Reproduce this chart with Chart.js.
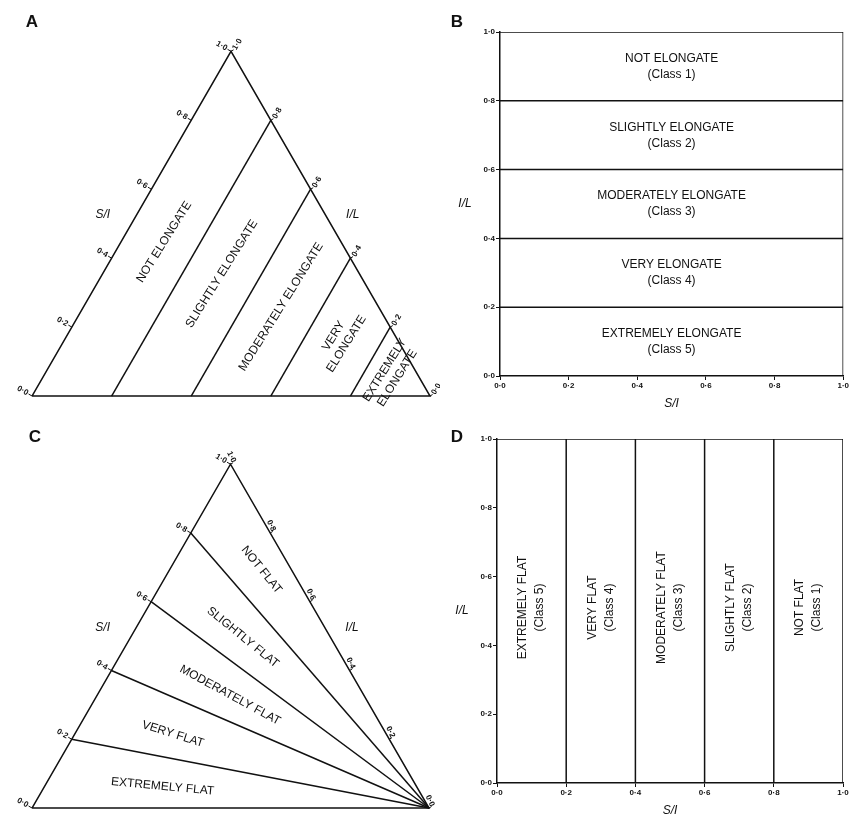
<!DOCTYPE html>
<html>
<head>
<meta charset="utf-8">
<script src="https://cdn.jsdelivr.net/npm/chart.js@4"></script>
<style>
  html, body { margin: 0; padding: 0; background: #fff; }
  #wrap { position: relative; width: 850px; height: 817px; overflow: hidden; }
  canvas { position: absolute; }
</style>
</head>
<body>
<div id="wrap">
  <canvas id="chartA" width="440" height="410" style="left:0;top:0"></canvas>
  <canvas id="chartB" width="410" height="410" style="left:440px;top:0"></canvas>
  <canvas id="chartC" width="440" height="407" style="left:0;top:410px"></canvas>
  <canvas id="chartD" width="410" height="407" style="left:440px;top:410px"></canvas>
</div>
<script>
// axis values and class limits
const tickValues = [0, 0.2, 0.4, 0.6, 0.8, 1.0];
const tickLabels = ['0·0', '0·2', '0·4', '0·6', '0·8', '1·0'];
const classLimits = [0.2, 0.4, 0.6, 0.8];
const elongateNames = ['NOT ELONGATE', 'SLIGHTLY ELONGATE', 'MODERATELY ELONGATE', 'VERY ELONGATE', 'EXTREMELY ELONGATE'];
const flatNames = ['NOT FLAT', 'SLIGHTLY FLAT', 'MODERATELY FLAT', 'VERY FLAT', 'EXTREMELY FLAT'];
const classNames = ['(Class 1)', '(Class 2)', '(Class 3)', '(Class 4)', '(Class 5)'];

// where the class names sit inside the triangles (triangle units, degrees)
const elongateSpots = [
  { x: 0.332, y: 0.387, rot: -58, wrap: false },
  { x: 0.477, y: 0.307, rot: -58, wrap: false },
  { x: 0.626, y: 0.224, rot: -58, wrap: false },
  { x: 0.774, y: 0.141, rot: -58, wrap: true },
  { x: 0.902, y: 0.055, rot: -58, wrap: true }
];
const flatSpots = [
  { x: 0.578, y: 0.600, rot: 51 },
  { x: 0.531, y: 0.430, rot: 39 },
  { x: 0.499, y: 0.284, rot: 28.5 },
  { x: 0.355, y: 0.186, rot: 17.5 },
  { x: 0.329, y: 0.054, rot: 5.4 }
];

const INK = '#111';
const FONT = '"Liberation Sans", Arial, Helvetica, sans-serif';
const H = Math.sqrt(3) / 2;
const leftPt = s => ({ x: s / 2, y: s * H });
const rightPt = r => ({ x: 1 - r / 2, y: r * H });

const seg = pts => ({
  data: pts, showLine: true, borderColor: INK, borderWidth: 1.5,
  pointRadius: 0, pointHoverRadius: 0, fill: false, tension: 0
});

function text(ctx, str, x, y, rot, font, align) {
  ctx.save();
  ctx.translate(x, y);
  ctx.rotate((rot || 0) * Math.PI / 180);
  ctx.font = font;
  ctx.fillStyle = INK;
  ctx.textAlign = align || 'center';
  ctx.textBaseline = 'middle';
  ctx.fillText(str, 0, 0);
  ctx.restore();
}

function stack(ctx, arr, x, y, rot, gap, font) {
  const r = rot * Math.PI / 180;
  const nx = -Math.sin(r), ny = Math.cos(r);
  arr.forEach((s, i) => {
    const o = (i - (arr.length - 1) / 2) * gap;
    text(ctx, s, x + nx * o, y + ny * o, rot, font);
  });
}

const base = {
  responsive: false, animation: false, devicePixelRatio: 1, events: [],
  plugins: { legend: { display: false }, tooltip: { enabled: false } }
};

function triangleChart(id, frame, datasets, style) {
  const { w, h, ox, oy, unit } = frame;
  new Chart(document.getElementById(id), {
    type: 'scatter',
    data: { datasets },
    options: {
      ...base,
      layout: { padding: 0 },
      scales: {
        x: { type: 'linear', display: false, bounds: 'data', min: -ox / unit, max: (w - ox) / unit },
        y: { type: 'linear', display: false, bounds: 'data', min: -(h - oy) / unit, max: oy / unit }
      }
    },
    plugins: [{
      id: 'tri' + id,
      afterDatasetsDraw(chart) {
        const { ctx, scales: { x, y } } = chart;
        const P = p => [x.getPixelForValue(p.x), y.getPixelForValue(p.y)];
        const nL = [-0.866, -0.5], nR = [0.866, -0.5];
        const small = 'bold 8px ' + FONT;
        ctx.save();
        ctx.strokeStyle = INK;
        ctx.lineWidth = 1;
        tickValues.forEach((v, i) => {
          const [lx, ly] = P(leftPt(v));
          ctx.beginPath();
          ctx.moveTo(lx, ly);
          ctx.lineTo(lx + 4 * nL[0], ly + 4 * nL[1]);
          ctx.stroke();
          text(ctx, tickLabels[i], lx + 5 * nL[0], ly + 5 * nL[1], style.leftRot, small, 'right');
          const [rx, ry] = P(rightPt(v));
          ctx.beginPath();
          ctx.moveTo(rx, ry);
          ctx.lineTo(rx + 3 * nR[0], ry + 3 * nR[1]);
          ctx.stroke();
          text(ctx, tickLabels[i], rx + 4 * nR[0], ry + 4 * nR[1], style.rightRot, small, style.rightAlign);
        });
        ctx.restore();

        const big = '12px ' + FONT;
        style.names.forEach((name, i) => {
          const s = style.spots[i];
          const [px, py] = P(s);
          const parts = s.wrap ? name.split(' ') : [name];
          stack(ctx, parts, px, py, s.rot, 15, big);
        });

        const it = 'italic 12px ' + FONT;
        let [sx, sy] = P({ x: 0.178, y: 0.455 });
        text(ctx, 'S/I', sx, sy, 0, it);
        [sx, sy] = P({ x: 0.806, y: 0.455 });
        text(ctx, 'I/L', sx, sy, 0, it);
        text(ctx, style.letter, style.lx, style.ly, 0, 'bold 17px ' + FONT);
      }
    }]
  });
}

// A: lines of equal I/L, parallel to the S/I side
triangleChart('chartA', { w: 440, h: 410, ox: 32, oy: 396, unit: 398 }, [
  seg([leftPt(0), leftPt(1), rightPt(0), leftPt(0)]),
  ...classLimits.map(b => seg([rightPt(b), { x: 1 - b, y: 0 }]))
], { leftRot: 30, rightRot: -60, rightAlign: 'left', names: elongateNames, spots: elongateSpots, letter: 'A', lx: 32, ly: 22 });

// C: lines of equal S/I, radiating from the I/L = 0 corner
triangleChart('chartC', { w: 440, h: 407, ox: 32, oy: 398, unit: 397 }, [
  seg([leftPt(0), leftPt(1), rightPt(0), leftPt(0)]),
  ...classLimits.map(b => seg([leftPt(b), rightPt(0)]))
], { leftRot: 30, rightRot: 65, rightAlign: 'right', names: flatNames, spots: flatSpots, letter: 'C', lx: 35, ly: 27 });

function axis(fitKey, fitVal) {
  return {
    type: 'linear', min: 0, max: 1,
    afterBuildTicks: s => { s.ticks = tickValues.map(v => ({ value: v })); },
    afterFit: s => { s[fitKey] = fitVal; },
    ticks: { callback: (v, i) => tickLabels[i], font: { size: 8, weight: 'bold', family: FONT }, color: INK, padding: 1, maxRotation: 0, autoSkip: false },
    grid: { display: true, drawOnChartArea: false, drawTicks: true, tickLength: 4, color: INK, lineWidth: 1 },
    border: { display: true, color: INK, width: 1.5 }
  };
}

function boxChart(id, frame, datasets, drawLabels, letter) {
  new Chart(document.getElementById(id), {
    type: 'scatter',
    data: { datasets },
    options: {
      ...base,
      layout: { padding: { top: frame.top, right: frame.right, left: 0, bottom: 0 } },
      scales: { x: axis('height', frame.xh), y: axis('width', frame.yw) }
    },
    plugins: [{
      id: 'box' + id,
      afterDatasetsDraw(chart) {
        const { ctx, chartArea: a, scales: { x, y } } = chart;
        drawLabels(ctx, x, y);
        const it = 'italic 12px ' + FONT;
        text(ctx, 'I/L', a.left - 35, (a.top + a.bottom) / 2, 0, it);
        text(ctx, 'S/I', (a.left + a.right) / 2, a.bottom + 28, 0, it);
        text(ctx, letter.t, letter.x, letter.y, 0, 'bold 17px ' + FONT);
      }
    }]
  });
}

// B: horizontal class bands on I/L
boxChart('chartB', { top: 32, right: 6, yw: 60, xh: 34 }, [
  ...[...classLimits, 1].map(v => seg([{ x: 0, y: v }, { x: 1, y: v }])),
  seg([{ x: 1, y: 0 }, { x: 1, y: 1 }])
], (ctx, x, y) => {
  for (let i = 0; i < 5; i++) {
    const yc = y.getPixelForValue((tickValues[i] + tickValues[i + 1]) / 2);
    const xc = x.getPixelForValue(0.5);
    stack(ctx, [elongateNames[4 - i], classNames[4 - i]], xc, yc, 0, 16, '12px ' + FONT);
  }
}, { t: 'B', x: 17, y: 22 });

// D: vertical class bands on S/I
boxChart('chartD', { top: 29, right: 7, yw: 57, xh: 34 }, [
  ...[...classLimits, 1].map(v => seg([{ x: v, y: 0 }, { x: v, y: 1 }])),
  seg([{ x: 0, y: 1 }, { x: 1, y: 1 }])
], (ctx, x, y) => {
  for (let i = 0; i < 5; i++) {
    const xc = x.getPixelForValue((tickValues[i] + tickValues[i + 1]) / 2);
    const yc = y.getPixelForValue(0.51);
    stack(ctx, [flatNames[4 - i], classNames[4 - i]], xc, yc, -90, 17, '12px ' + FONT);
  }
}, { t: 'D', x: 17, y: 27 });
</script>
</body>
</html>
